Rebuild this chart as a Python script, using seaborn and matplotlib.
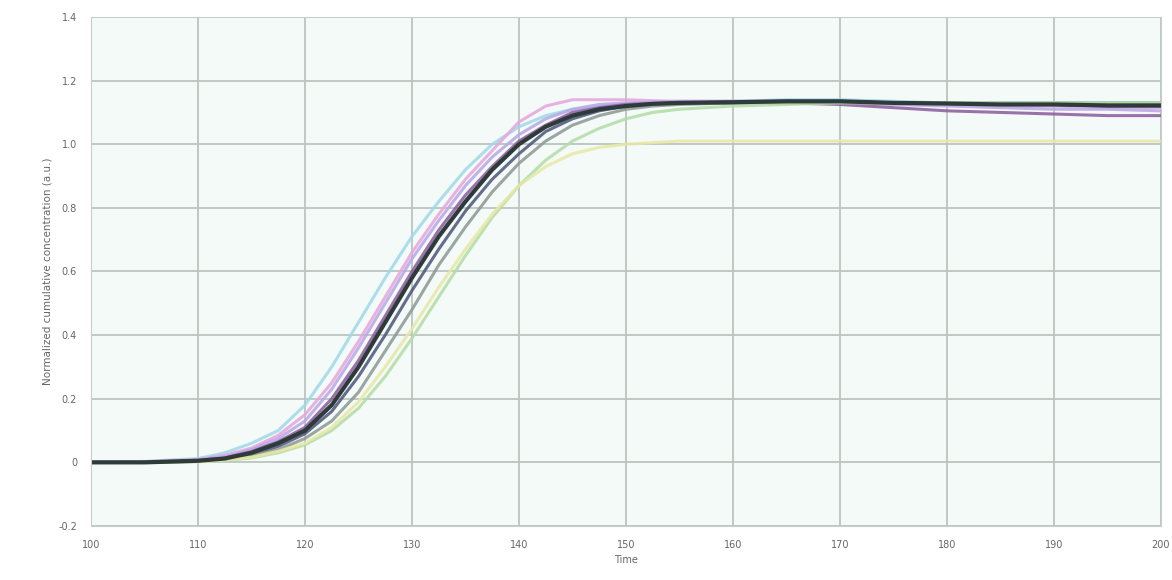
import pandas as pd
import matplotlib.pyplot as plt
import seaborn as sns

# x positions shared by every curve (finer steps where the curves rise)
time = [100, 105, 110, 112.5, 115, 117.5, 120, 122.5, 125, 127.5, 130,
        132.5, 135, 137.5, 140, 142.5, 145, 147.5, 150, 152.5, 155,
        160, 165, 170, 175, 180, 185, 190, 195, 200]

# individual runs
cyan = [0, 0.003, 0.012, 0.03, 0.06, 0.1, 0.18, 0.3, 0.44, 0.58, 0.71,
        0.82, 0.92, 1.0, 1.055, 1.09, 1.11, 1.12, 1.127, 1.13, 1.132,
        1.135, 1.14, 1.14, 1.135, 1.13, 1.13, 1.13, 1.13, 1.13]
pink = [0, 0.002, 0.009, 0.022, 0.045, 0.085, 0.15, 0.25, 0.38, 0.52, 0.66,
        0.78, 0.89, 0.98, 1.07, 1.12, 1.14, 1.14, 1.14, 1.137, 1.135,
        1.135, 1.135, 1.13, 1.13, 1.125, 1.12, 1.12, 1.115, 1.115]
lavender = [0, 0.001, 0.008, 0.018, 0.04, 0.075, 0.13, 0.23, 0.36, 0.5, 0.64,
            0.76, 0.87, 0.96, 1.03, 1.08, 1.11, 1.125, 1.13, 1.133, 1.135,
            1.135, 1.135, 1.13, 1.125, 1.12, 1.115, 1.11, 1.11, 1.105]
purple = [0, 0, 0.006, 0.014, 0.034, 0.065, 0.11, 0.2, 0.32, 0.46, 0.6,
          0.73, 0.84, 0.93, 1.01, 1.06, 1.1, 1.115, 1.125, 1.128, 1.13,
          1.13, 1.13, 1.125, 1.115, 1.105, 1.1, 1.095, 1.09, 1.09]
navy = [0, 0, 0.004, 0.01, 0.025, 0.05, 0.09, 0.16, 0.27, 0.4, 0.54,
        0.67, 0.79, 0.89, 0.97, 1.04, 1.08, 1.105, 1.12, 1.127, 1.13,
        1.133, 1.135, 1.135, 1.13, 1.128, 1.125, 1.125, 1.12, 1.12]
gray = [0, 0, 0.003, 0.008, 0.02, 0.04, 0.075, 0.13, 0.22, 0.35, 0.48,
        0.62, 0.74, 0.85, 0.94, 1.01, 1.06, 1.09, 1.11, 1.12, 1.125,
        1.13, 1.13, 1.13, 1.13, 1.13, 1.13, 1.13, 1.13, 1.13]
green = [0, 0, 0.002, 0.006, 0.014, 0.03, 0.055, 0.1, 0.17, 0.27, 0.39,
         0.52, 0.65, 0.77, 0.87, 0.95, 1.01, 1.05, 1.08, 1.1, 1.11,
         1.12, 1.125, 1.13, 1.13, 1.13, 1.13, 1.13, 1.13, 1.13]
yellow = [0, 0, 0.002, 0.007, 0.016, 0.035, 0.06, 0.11, 0.19, 0.3, 0.42,
          0.55, 0.67, 0.78, 0.87, 0.93, 0.97, 0.99, 1.0, 1.005, 1.01,
          1.01, 1.01, 1.01, 1.01, 1.01, 1.01, 1.01, 1.01, 1.01]

# mean curve (thick dark line)
mean = [0, 0, 0.005, 0.012, 0.03, 0.06, 0.1, 0.18, 0.3, 0.44, 0.58,
        0.71, 0.82, 0.92, 1.0, 1.055, 1.09, 1.11, 1.12, 1.127, 1.13,
        1.132, 1.135, 1.135, 1.13, 1.128, 1.125, 1.125, 1.122, 1.122]

x_ticks = [100, 110, 120, 130, 140, 150, 160, 170, 180, 190, 200]
y_ticks = [-0.2, 0, 0.2, 0.4, 0.6, 0.8, 1.0, 1.2, 1.4]
y_labels = ["-0.2", "0", "0.2", "0.4", "0.6", "0.8", "1.0", "1.2", "1.4"]

runs = {"cyan": cyan, "pink": pink, "lavender": lavender, "purple": purple,
        "navy": navy, "gray": gray, "green": green, "yellow": yellow}
colors = {"cyan": "#9fd8ea", "pink": "#e7a6dd", "lavender": "#b9a6e6",
          "purple": "#8b5a9c", "navy": "#4b5478", "gray": "#8c9894",
          "green": "#b4dca6", "yellow": "#e8e8a4"}

df = pd.DataFrame([(k, t, v) for k, vals in runs.items() for t, v in zip(time, vals)],
                  columns=["run", "time", "value"])
df_mean = pd.DataFrame({"time": time, "value": mean})

sns.set_style("white")
fig = plt.figure(figsize=(11.72, 5.8), dpi=100)
ax = fig.add_axes([0.0776, 0.0931, 0.913, 0.8776])
ax.set_facecolor("#f3faf7")

# colored runs first, mean on top
sns.lineplot(data=df, x="time", y="value", hue="run", palette=colors,
             linewidth=2.2, alpha=0.85, legend=False, ax=ax)
sns.lineplot(data=df_mean, x="time", y="value", color="#2f3a3a",
             linewidth=3, ax=ax)

ax.set_xlim(100, 200)
ax.set_ylim(-0.2, 1.4)
ax.set_xticks(x_ticks)
ax.set_yticks(y_ticks)
ax.set_yticklabels(y_labels)
ax.grid(True, color="#bcc4c0", linewidth=1.3)
ax.set_axisbelow(True)
ax.tick_params(labelsize=7, colors="#666666", length=0, pad=10)
for s in ax.spines.values():
    s.set_color("#c8cccb")
ax.set_xlabel("Time", fontsize=7, color="#666666")
ax.set_ylabel("Normalized cumulative concentration (a.u.)", fontsize=7.5,
              color="#666666")

plt.savefig("out.png", dpi=100)
